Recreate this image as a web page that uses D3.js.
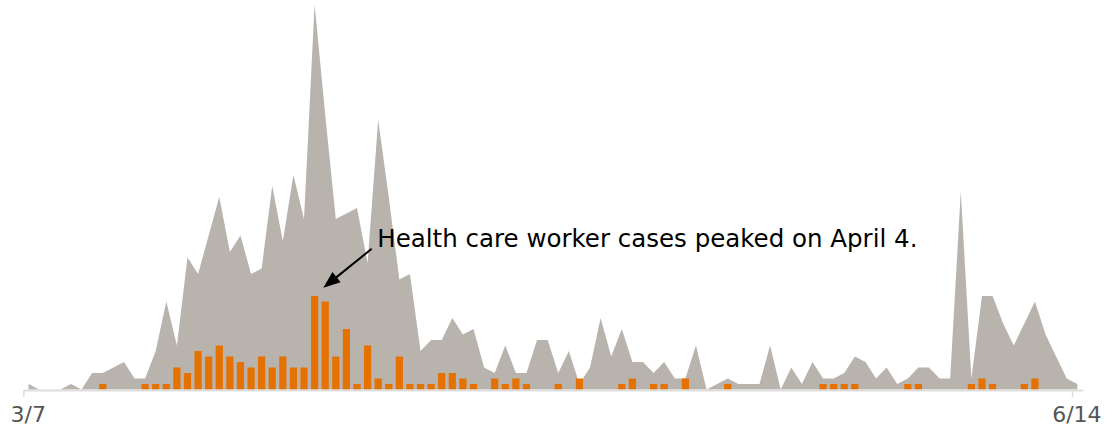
<!DOCTYPE html>
<html>
<head>
<meta charset="utf-8">
<script src="https://cdn.jsdelivr.net/npm/d3@7"></script>
<style>
  html, body { margin: 0; padding: 0; background: #fff; }
  svg { display: block; }
</style>
</head>
<body>
<svg id="chart" width="1107" height="434"></svg>
<script>
// Daily cases, one value per day starting 3/7
const startDate = "2020-03-07";
const endDate = "2020-06-14";

// All reported cases (gray area)
const allCases = [
  1, 0, 0, 0, 1, 0, 3, 3, 4, 5,
  2, 2, 7, 16, 8, 24, 21, 28, 35, 25,
  28, 21, 22, 37, 27, 39, 31, 70, 50, 31,
  32, 33, 23, 49, 35, 20, 21, 7, 9, 9,
  13, 10, 11, 4, 3, 8, 3, 3, 9, 9,
  3, 7, 1, 4, 13, 6, 11, 5, 5, 3,
  5, 2, 2, 8, 0, 1, 2, 1, 1, 1,
  8, 0, 4, 1, 5, 2, 2, 3, 6, 5,
  2, 4, 1, 2, 4, 4, 2, 2, 36, 2,
  17, 17, 12, 8, 12, 16, 10, 6, 2, 1
];

// Health care worker cases (orange bars)
const healthCareCases = [
  0, 0, 0, 0, 0, 0, 0, 1, 0, 0,
  0, 1, 1, 1, 4, 3, 7, 6, 8, 6,
  5, 4, 6, 4, 6, 4, 4, 17, 16, 6,
  11, 1, 8, 2, 1, 6, 1, 1, 1, 3,
  3, 2, 1, 0, 2, 1, 2, 1, 0, 0,
  1, 0, 2, 0, 0, 0, 1, 2, 0, 1,
  1, 0, 2, 0, 0, 0, 1, 0, 0, 0,
  0, 0, 0, 0, 0, 1, 1, 1, 1, 0,
  0, 0, 0, 1, 1, 0, 0, 0, 0, 1,
  2, 1, 0, 0, 1, 2, 0, 0, 0, 0
];

const tickLabels = ["3/7", "6/14"];
const annotationText = "Health care worker cases peaked on April 4.";

const parse = d3.timeParse("%Y-%m-%d");
const start = parse(startDate);
const end = parse(endDate);
const days = allCases.map((_, i) => d3.timeDay.offset(start, i));
const noon = d => d3.timeHour.offset(d, 12);

const svg = d3.select("#chart");

const x = d3.scaleTime()
  .domain([start, d3.timeDay.offset(end, 1)])
  .range([23.3, 1082.6]);

const y = d3.scaleLinear()
  .domain([0, 70])
  .range([389.5, 4.5]);

const rows = days.map((d, i) => ({ date: d, all: allCases[i], hcw: healthCareCases[i] }));

// Gray area of all cases
const area = d3.area()
  .x(d => x(noon(d.date)))
  .y0(y(0))
  .y1(d => y(d.all))
  .curve(d3.curveLinear);

svg.append("path")
  .datum(rows)
  .attr("fill", "#b8b3ad")
  .attr("d", area);

// Orange bars of health care worker cases
const dayWidth = x(d3.timeDay.offset(start, 1)) - x(start);
const barWidth = dayWidth * 0.68;

svg.append("g")
  .selectAll("rect")
  .data(rows.filter(d => d.hcw > 0))
  .join("rect")
  .attr("x", d => x(noon(d.date)) - barWidth / 2)
  .attr("width", barWidth)
  .attr("y", d => y(d.hcw))
  .attr("height", d => y(0) - y(d.hcw))
  .attr("fill", "#e57200");

// Axis with two date ticks
const tickDates = tickLabels.map(t => {
  const [m, dd] = t.split("/").map(Number);
  return new Date(start.getFullYear(), m - 1, dd);
});

const axis = d3.axisBottom(x)
  .tickValues(tickDates)
  .tickSize(7)
  .tickSizeOuter(0)
  .tickFormat((d, i) => tickLabels[i]);

const gx = svg.append("g")
  .attr("transform", `translate(0,${y(0) + 0.5})`)
  .call(axis);

gx.select(".domain")
  .attr("stroke", "#dedede")
  .attr("stroke-width", 2);
gx.selectAll(".tick line")
  .attr("stroke", "#dedede")
  .attr("stroke-width", 1.5);
gx.selectAll(".tick text")
  .attr("fill", "#555")
  .attr("font-family", "DejaVu Sans, sans-serif")
  .attr("font-size", 22)
  .attr("dx", 4.4)
  .attr("y", 16)
  .attr("dy", "0.71em");

// Annotation pointing at the peak health care worker bar
const peakIdx = d3.maxIndex(healthCareCases);
const peak = rows[peakIdx];
const tipX = x(noon(peak.date)) + 8.7;
const tipY = y(peak.hcw) - 8.2;
const tailX = tipX + 48.4;
const tailY = tipY - 39;

const ang = Math.atan2(tipY - tailY, tipX - tailX);
const headLen = 17, headHalf = 6.5;
const bx = tipX - headLen * Math.cos(ang), by = tipY - headLen * Math.sin(ang);
const px = -Math.sin(ang), py = Math.cos(ang);

svg.append("line")
  .attr("x1", tailX).attr("y1", tailY)
  .attr("x2", bx + 2 * Math.cos(ang)).attr("y2", by + 2 * Math.sin(ang))
  .attr("stroke", "#000")
  .attr("stroke-width", 2);

svg.append("path")
  .attr("d", `M${tipX},${tipY}L${bx + px * headHalf},${by + py * headHalf}L${bx - px * headHalf},${by - py * headHalf}Z`)
  .attr("fill", "#000");

svg.append("text")
  .attr("x", tailX + 5.6)
  .attr("y", tailY - 2.3)
  .attr("font-family", "DejaVu Sans, sans-serif")
  .attr("font-size", 24.5)
  .attr("fill", "#000")
  .text(annotationText);
</script>
</body>
</html>
